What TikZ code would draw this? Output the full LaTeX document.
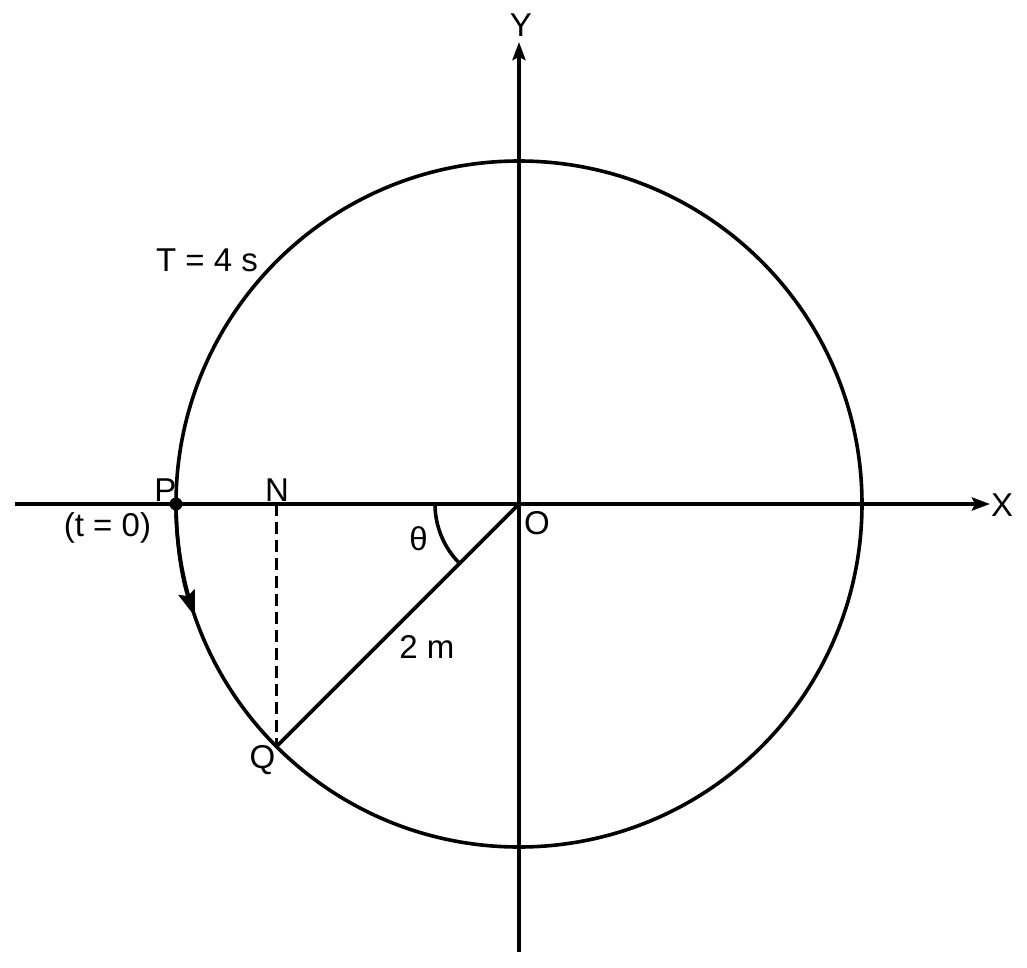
\documentclass[tikz,border=0pt]{standalone}
\usepackage{fontspec}
\setmainfont{Liberation Sans}
\usetikzlibrary{arrows.meta}
\begin{document}
\begin{tikzpicture}[x=1pt,y=1pt,
  axis/.style={line width=3.6pt,-{Stealth[length=18pt,width=13pt,inset=3pt]}},
  thick3/.style={line width=3.6pt},
  lbl/.style={inner sep=0pt,font=\fontsize{33}{40}\selectfont},
  dashedline/.style={line width=3.6pt,dash pattern=on 12pt off 6pt}]
\useasboundingbox (-519,-463) rectangle (508,504);
\coordinate (O) at (0,0);
\coordinate (XL) at (-504,0);
\coordinate (XR) at (471,0);
\coordinate (YB) at (0,-448);
\coordinate (YT) at (0,462);
\coordinate (P) at (180:343);
\coordinate (Q) at (225:343);
\coordinate (N) at (Q |- O);
% axes
\draw[axis] (XL) -- (XR);
\draw[axis] (YB) -- (YT);
% circle
\draw[thick3] (O) circle (343);
% direction arrow on circle
\draw[line width=3.6pt,-{Stealth[length=26pt,width=17pt,inset=4pt]}] (P) arc (180:199.2:343);
% radius and projection
\draw[thick3] (O) -- (Q);
\draw[dashedline] (N) -- (Q);
% angle arc
\draw[thick3] (O) ++(180:84) arc (180:225:84);
% dot at P
\fill (P) circle (6.5);
% labels
\node[lbl] (ly) at (2,479) {Y};
\node[lbl] (lx) at (483,-1) {X};
\node[lbl] (lt) at (-312,244) {T = 4 s};
\node[lbl] (lp) at (-353.5,14) {P};
\node[lbl] (ln) at (-242,14) {N};
\node[lbl] (lt0) at (-411.5,-24) {(t = 0)};
\node[lbl] (lo) at (18,-19) {O};
\node[lbl] (lth) at (-100.5,-35) {θ};
\node[lbl] (lm) at (-92,-143) {2 m};
\node[lbl] (lq) at (-256.5,-256) {Q};
\end{tikzpicture}
\end{document}
